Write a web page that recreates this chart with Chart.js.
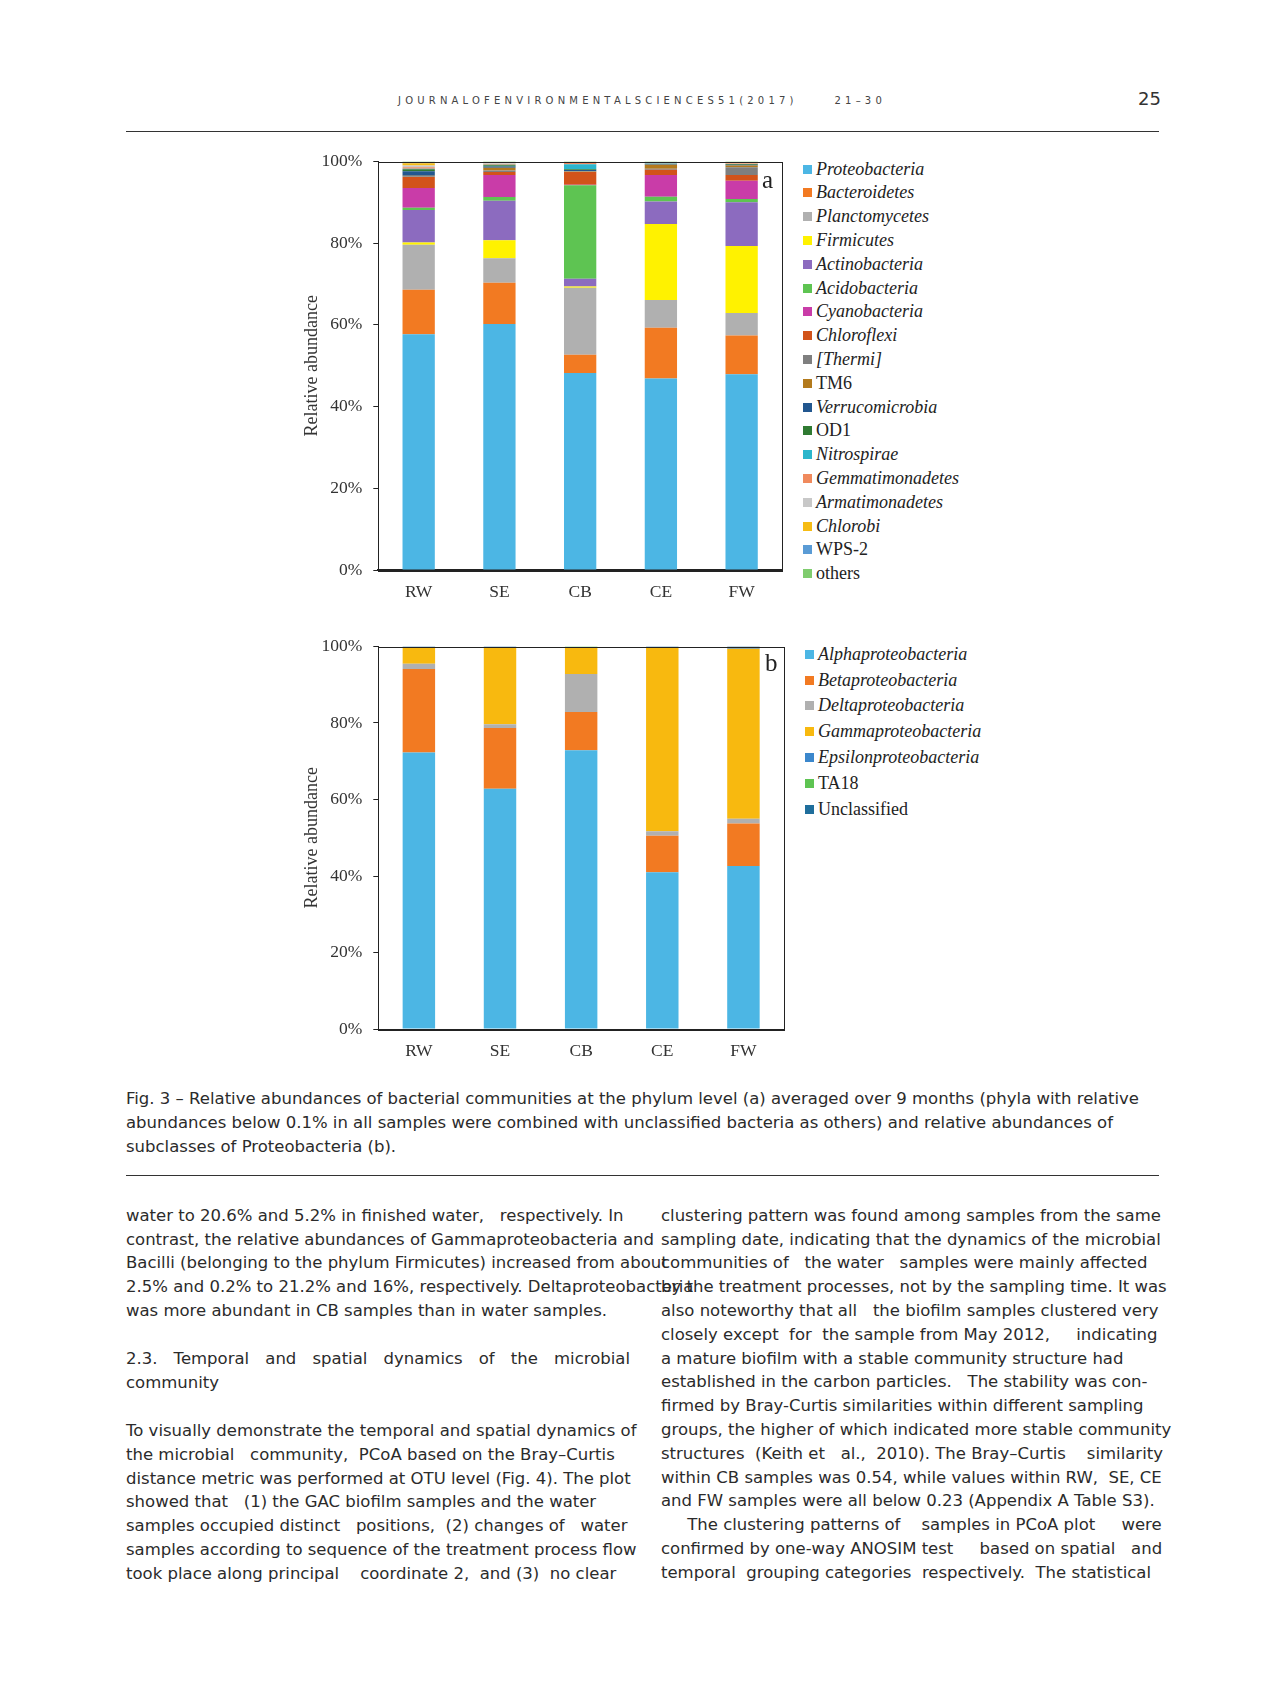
<!DOCTYPE html>
<html>
<head>
<meta charset="utf-8">
<script src="https://cdn.jsdelivr.net/npm/chart.js@4.4.0/dist/chart.umd.min.js"></script>
<style>
  body { margin: 0; background: #fff; width: 1276px; height: 1689px; position: relative; overflow: hidden;
         font-family: "DejaVu Sans", sans-serif; color: #2b2b2b; }
  .abs { position: absolute; }
  .line { position: absolute; white-space: pre; font-size: 16.5px; line-height: 24px; }
  .rule { position: absolute; left: 126px; width: 1033px; height: 1px; background: #333; }
  .legend { position: absolute; font-family: "Liberation Serif", serif; font-size: 18px; color: #222; }
  .legend div { position: absolute; display: flex; align-items: center; white-space: nowrap; height: 24px; }
  .legend span.sw { display: inline-block; width: 9px; height: 9px; margin-right: 4px; }
  .panel { position: absolute; font-family: "Liberation Serif", serif; font-size: 25px; color: #222; }
</style>
</head>
<body>

<div class="abs" style="left:398px;top:95px;font-size:10px;letter-spacing:4.2px;color:#444;white-space:pre">JOURNALOFENVIRONMENTALSCIENCES51(2017)     21–30</div>
<div class="abs" style="left:1138px;top:88px;font-size:18px;color:#333">25</div>
<div class="rule" style="top:131px"></div>

<canvas id="chartA" class="abs" style="left:280px;top:140px"></canvas>
<canvas id="chartB" class="abs" style="left:280px;top:625px"></canvas>
<div class="panel" style="left:762px;top:166px">a</div>
<div class="panel" style="left:765px;top:649px">b</div>
<div id="legendA" class="legend"></div>
<div id="legendB" class="legend"></div>

<div id="text"></div>

<script>
const samples = ['RW', 'SE', 'CB', 'CE', 'FW'];
const percentTicks = [0, 20, 40, 60, 80, 100];

// (a) phyla, values per sample in order RW, SE, CB, CE, FW
const phyla = ['Proteobacteria', 'Bacteroidetes', 'Planctomycetes', 'Firmicutes', 'Actinobacteria',
  'Acidobacteria', 'Cyanobacteria', 'Chloroflexi', '[Thermi]', 'TM6', 'Verrucomicrobia', 'OD1',
  'Nitrospirae', 'Gemmatimonadetes', 'Armatimonadetes', 'Chlorobi', 'WPS-2', 'others'];
const phylaValues = [
  [57.7, 60.2, 48.2, 46.9, 47.9],
  [10.9, 10.1, 4.5, 12.4, 9.5],
  [11.0, 6.0, 16.4, 6.8, 5.5],
  [0.6, 4.4, 0.3, 18.6, 16.4],
  [7.9, 9.7, 1.9, 5.5, 10.7],
  [0.6, 0.9, 22.9, 1.2, 0.8],
  [4.8, 5.4, 0.1, 5.3, 4.5],
  [2.7, 0.7, 3.1, 1.3, 1.4],
  [0.2, 0.4, 0.1, 0.2, 1.9],
  [0.1, 0.7, 0.1, 1.0, 0.4],
  [1.1, 0.3, 0.3, 0.1, 0.2],
  [0.5, 0.3, 0.2, 0.1, 0.2],
  [0.1, 0.1, 1.2, 0.1, 0.0],
  [0.4, 0.2, 0.4, 0.2, 0.1],
  [0.4, 0.2, 0.1, 0.1, 0.1],
  [0.6, 0.1, 0.0, 0.1, 0.1],
  [0.1, 0.1, 0.0, 0.0, 0.0],
  [0.3, 0.2, 0.2, 0.1, 0.3]
];
const phylaColors = ['#4cb6e4', '#f27a22', '#b0b0b0', '#fff200', '#8c6bbf', '#5ec452', '#c93ca8',
  '#d2531a', '#7f7f7f', '#b37a1c', '#22578f', '#2f7a32', '#2bb6cc', '#f08a5d', '#c8c8c8',
  '#f6bc14', '#5a9bd5', '#7fcc6e'];

// (b) subclasses of Proteobacteria
const subclasses = ['Alphaproteobacteria', 'Betaproteobacteria', 'Deltaproteobacteria',
  'Gammaproteobacteria', 'Epsilonproteobacteria', 'TA18', 'Unclassified'];
const subclassValues = [
  [72.3, 62.8, 72.9, 41.0, 42.6],
  [21.8, 15.9, 10.0, 9.5, 11.1],
  [1.4, 1.0, 9.9, 1.2, 1.3],
  [4.1, 20.2, 7.0, 48.2, 44.4],
  [0.0, 0.0, 0.0, 0.0, 0.2],
  [0.0, 0.0, 0.2, 0.0, 0.0],
  [0.4, 0.1, 0.0, 0.1, 0.4]
];
const subclassColors = ['#4cb6e4', '#f27a22', '#b0b0b0', '#f8b90f', '#3b87cc', '#5ec452', '#1f6e9c'];

const plainNames = ['TM6', 'OD1', 'WPS-2', 'others', 'TA18', 'Unclassified'];

const framePlugin = {
  id: 'frame',
  afterDraw(chart) {
    const a = chart.chartArea, ctx = chart.ctx;
    ctx.save();
    ctx.strokeStyle = '#222';
    ctx.lineWidth = 1;
    ctx.strokeRect(Math.round(a.left) + 0.5, Math.round(a.top) + 0.5,
      Math.round(a.right - a.left), Math.round(a.bottom - a.top));
    ctx.restore();
  }
};

function makeChart(id, w, h, names, values, colors, bottomWidth) {
  const el = document.getElementById(id);
  el.width = w; el.height = h;
  el.style.width = w + 'px'; el.style.height = h + 'px';
  return new Chart(el, {
    type: 'bar',
    data: {
      labels: samples,
      datasets: names.map((n, i) => ({
        label: n,
        data: values[i],
        backgroundColor: colors[i],
        borderWidth: 0,
        barPercentage: 0.4,
        categoryPercentage: 1
      }))
    },
    options: {
      responsive: false,
      animation: false,
      layout: { padding: { top: 20.7, right: 8, left: 0, bottom: 10 } },
      plugins: { legend: { display: false }, tooltip: { enabled: false } },
      scales: {
        x: {
          stacked: true,
          grid: { display: false },
          border: { display: true, color: '#222', width: bottomWidth },
          ticks: { color: '#333', padding: 4, font: { family: 'Liberation Serif', size: 17.5 } },
          afterFit: s => { s.height = 45; }
        },
        y: {
          stacked: true,
          min: 0, max: 100,
          afterBuildTicks: s => { s.ticks = percentTicks.map(v => ({ value: v })); },
          grid: { drawOnChartArea: false, drawTicks: true, tickLength: 5, color: '#222' },
          border: { display: true, color: '#222', width: 1 },
          ticks: { color: '#333', padding: 11, callback: v => v + '%',
                   font: { family: 'Liberation Serif', size: 17.5 } },
          title: { display: true, text: 'Relative abundance', color: '#333', padding: { top: 21, bottom: 0 },
                   font: { family: 'Liberation Serif', size: 18 } },
          afterFit: s => { s.width = 98.3; }
        }
      }
    },
    plugins: [framePlugin]
  });
}

makeChart('chartA', 510, 485, phyla, phylaValues, phylaColors, 2);
makeChart('chartB', 512, 459.3, subclasses, subclassValues, subclassColors, 1);

function buildLegend(id, names, colors, left, top0, step) {
  const box = document.getElementById(id);
  names.forEach((n, i) => {
    const d = document.createElement('div');
    d.style.left = left + 'px';
    d.style.top = (top0 + i * step - 12) + 'px';
    const sw = document.createElement('span');
    sw.className = 'sw';
    sw.style.background = colors[i];
    const t = document.createElement('span');
    t.textContent = n;
    if (!plainNames.includes(n)) t.style.fontStyle = 'italic';
    d.appendChild(sw); d.appendChild(t);
    box.appendChild(d);
  });
}
buildLegend('legendA', phyla, phylaColors, 803, 169, 23.8);
buildLegend('legendB', subclasses, subclassColors, 805, 654.3, 25.8);

// caption and body text
const caption = [
  'Fig. 3 – Relative abundances of bacterial communities at the phylum level (a) averaged over 9 months (phyla with relative',
  'abundances below 0.1% in all samples were combined with unclassified bacteria as others) and relative abundances of',
  'subclasses of Proteobacteria (b).'
];
const leftCol = [
  'water to 20.6% and 5.2% in finished water,   respectively. In',
  'contrast, the relative abundances of Gammaproteobacteria and',
  'Bacilli (belonging to the phylum Firmicutes) increased from about',
  '2.5% and 0.2% to 21.2% and 16%, respectively. Deltaproteobacteria',
  'was more abundant in CB samples than in water samples.'
];
const leftPara = [
  'To visually demonstrate the temporal and spatial dynamics of',
  'the microbial   community,  PCoA based on the Bray–Curtis',
  'distance metric was performed at OTU level (Fig. 4). The plot',
  'showed that   (1) the GAC biofilm samples and the water',
  'samples occupied distinct   positions,  (2) changes of   water',
  'samples according to sequence of the treatment process flow',
  'took place along principal    coordinate 2,  and (3)  no clear'
];
const rightCol = [
  'clustering pattern was found among samples from the same',
  'sampling date, indicating that the dynamics of the microbial',
  'communities of   the water   samples were mainly affected',
  'by the treatment processes, not by the sampling time. It was',
  'also noteworthy that all   the biofilm samples clustered very',
  'closely except  for  the sample from May 2012,     indicating',
  'a mature biofilm with a stable community structure had',
  'established in the carbon particles.   The stability was con-',
  'firmed by Bray-Curtis similarities within different sampling',
  'groups, the higher of which indicated more stable community',
  'structures  (Keith et   al.,  2010). The Bray–Curtis    similarity',
  'within CB samples was 0.54, while values within RW,  SE, CE',
  'and FW samples were all below 0.23 (Appendix A Table S3).',
  '     The clustering patterns of    samples in PCoA plot     were',
  'confirmed by one-way ANOSIM test     based on spatial   and',
  'temporal  grouping categories  respectively.  The statistical'
];

const textBox = document.getElementById('text');
function put(str, x, yc, extra) {
  const d = document.createElement('div');
  d.className = 'line';
  d.textContent = str;
  d.style.left = x + 'px';
  d.style.top = (yc - 12) + 'px';
  if (extra) Object.assign(d.style, extra);
  textBox.appendChild(d);
}
caption.forEach((s, i) => put(s, 126, 1099 + i * 23.8));
const rule2 = document.createElement('div');
rule2.className = 'rule'; rule2.style.top = '1175px';
textBox.appendChild(rule2);
leftCol.forEach((s, i) => put(s, 126, 1215.7 + i * 23.8));
put('2.3.  Temporal  and  spatial  dynamics  of  the  microbial', 126, 1359,
    { whiteSpace: 'normal', width: '504px', textAlign: 'justify', textAlignLast: 'justify' });
put('community', 126, 1383);
leftPara.forEach((s, i) => put(s, 126, 1431 + i * 23.8));
rightCol.forEach((s, i) => put(s, 661, 1215.7 + i * 23.8));
</script>
</body>
</html>
